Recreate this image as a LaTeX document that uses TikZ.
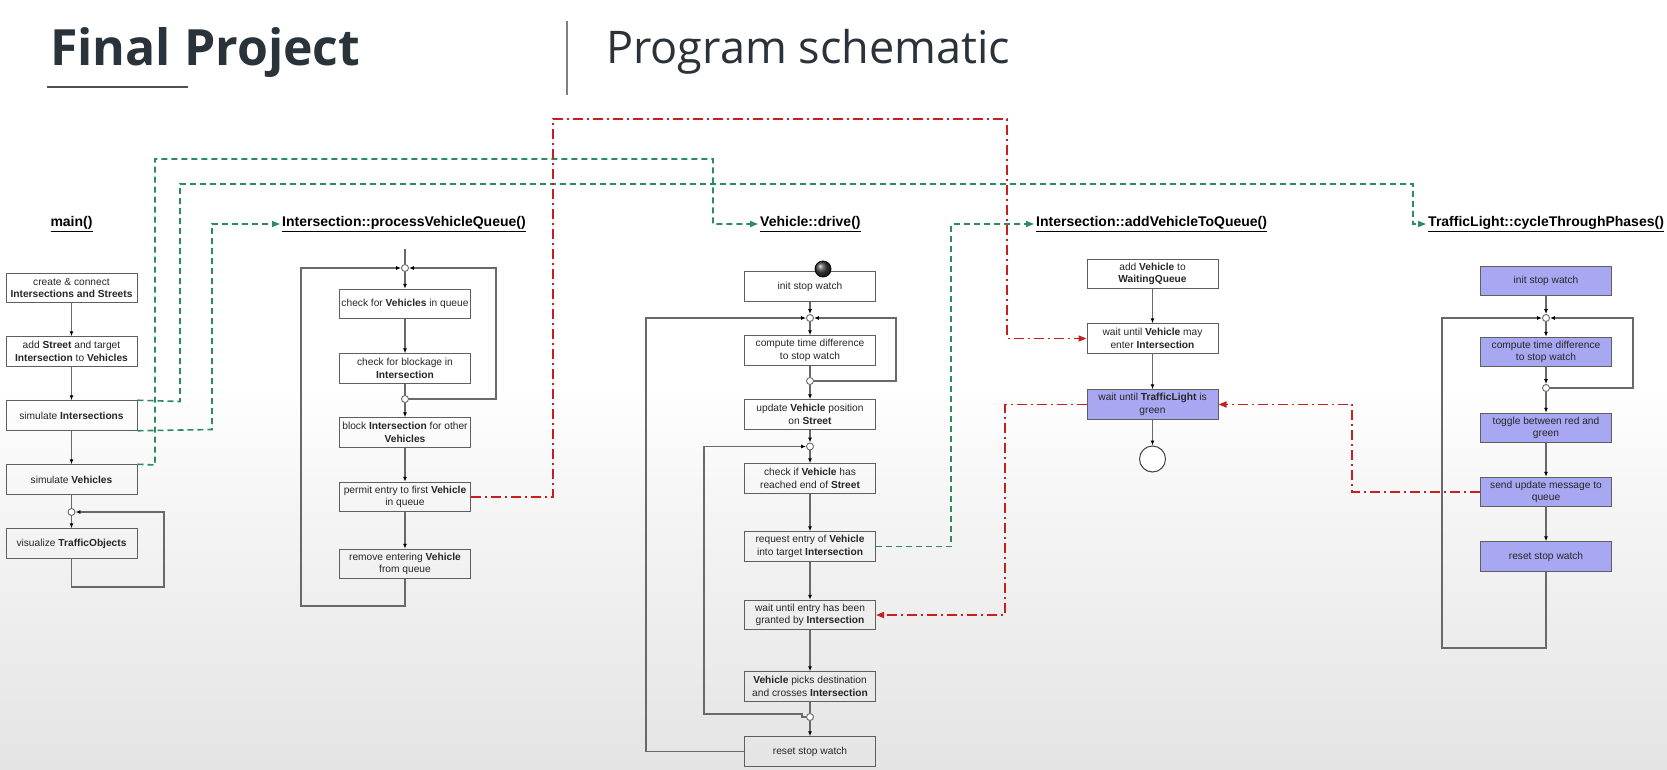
\documentclass[tikz,border=0pt]{standalone}
\usepackage{graphicx}
\usepackage{fontspec}
\setmainfont{Liberation Sans}
\newfontfamily\headfont{Open Sans}
\usetikzlibrary{arrows.meta}

\definecolor{linkgreen}{RGB}{45,140,95}
\definecolor{linkred}{RGB}{200,30,30}
\definecolor{phasefill}{RGB}{168,168,242}
\definecolor{linegray}{RGB}{105,105,105}
\definecolor{boxgray}{RGB}{95,95,95}
\definecolor{headink}{RGB}{42,50,58}
\definecolor{bgbot}{RGB}{212,212,212}
\definecolor{bgmid}{RGB}{225,225,225}
\definecolor{bglight}{RGB}{245,245,245}

% soft grey fade towards the bottom of the slide
\pgfdeclareverticalshading{bgshade}{100bp}{color(0bp)=(bgbot); color(22bp)=(bgmid); color(42bp)=(bglight); color(50bp)=(white); color(100bp)=(white)}

\begin{document}
\begin{tikzpicture}[x=1pt,y=-1pt,
  stepbox/.style={draw=boxgray, line width=1pt, minimum width=131pt, minimum height=29.5pt,
    inner sep=1pt, align=center, font=\fontsize{10.2}{12.6}\selectfont, text=black!85},
  phasebox/.style={stepbox, fill=phasefill},
  junction/.style={circle, draw=linegray, fill=white, line width=0.9pt, minimum size=7pt, inner sep=0pt},
  conn/.style={draw=linegray, line width=1.1pt},
  flow/.style={conn, -{Latex[length=5pt,width=4pt,black]}},
  greenlink/.style={draw=linkgreen, line width=1.6pt, dash pattern=on 6pt off 4pt,
    -{Triangle[length=8pt,width=6pt,fill=linkgreen]}},
  redlink/.style={draw=linkred, line width=1.6pt, dash pattern=on 10pt off 4pt on 2pt off 4pt,
    -{Triangle[length=8pt,width=6pt,fill=linkred]}},
  lanetitle/.style={font=\fontsize{14}{16}\selectfont\bfseries, inner sep=2pt, anchor=west, text=black},
]

% background
\shade[shading=bgshade] (0,0) rectangle (1667,770);
\useasboundingbox (0,0) rectangle (1667,770);

% slide header
\node[anchor=base west, inner sep=0pt, text=headink] (ftitle) at (50,66)
  {\resizebox{310pt}{!}{\headfont\bfseries Final Project}};
\node[anchor=base west, inner sep=0pt, text=headink] (stitle) at (606,64)
  {\resizebox{404pt}{!}{\headfont Program schematic}};
\draw[headink!85, line width=2pt] (47,87) -- (188,87);
\draw[gray, line width=1.3pt] (567,21) -- (567,95);

% ---------------- main() ----------------
\node[lanetitle, anchor=center] (tmain) at (71.5,224) {\underline{main()}};
\node[stepbox] (m1) at (71.5,288)   {create \& connect\\ \textbf{Intersections and Streets}};
\node[stepbox] (m2) at (71.5,351.5) {add \textbf{Street} and target\\ \textbf{Intersection} to \textbf{Vehicles}};
\node[stepbox] (m3) at (71.5,415.5) {simulate \textbf{Intersections}};
\node[stepbox] (m4) at (71.5,479.5) {simulate \textbf{Vehicles}};
\node[junction] (mj) at (71.5,512) {};
\node[stepbox] (m5) at (71.5,543.5) {visualize \textbf{TrafficObjects}};

\draw[flow] (m1) -- (m2);
\draw[flow] (m2) -- (m3);
\draw[flow] (m3) -- (m4);
\draw[conn] (m4) -- (mj);
\draw[flow] (mj) -- (m5);
\draw[flow] (m5.south) |- (164,587) |- (mj.east);

% ---------------- Intersection::processVehicleQueue() ----------------
\node[lanetitle] (tpvq) at (280,224) {\underline{Intersection::processVehicleQueue()}};
\coordinate (pin) at (405,249);
\node[junction] (p0) at (405,268) {};
\node[stepbox] (p1) at (405,304)   {check for \textbf{Vehicles} in queue};
\node[stepbox] (p2) at (405,368.5) {check for blockage in\\ \textbf{Intersection}};
\node[junction] (pj) at (405,399) {};
\node[stepbox] (p3) at (405,432.5) {block \textbf{Intersection} for other\\ \textbf{Vehicles}};
\node[stepbox] (p4) at (405,497)   {permit entry to first \textbf{Vehicle}\\ in queue};
\node[stepbox] (p5) at (405,564)   {remove entering \textbf{Vehicle}\\ from queue};

\draw[conn] (pin) -- (p0);
\draw[flow] (p0) -- (p1);
\draw[flow] (p1) -- (p2);
\draw[conn] (p2) -- (pj);
\draw[flow] (pj) -- (p3);
\draw[flow] (p3) -- (p4);
\draw[flow] (p4) -- (p5);
\draw[flow] (p5.south) |- (301,606) |- (p0.west);
\draw[flow] (pj.east) -| (496,268) -- (p0.east);

% ---------------- Vehicle::drive() ----------------
\node[lanetitle] (tdrive) at (758,224) {\underline{Vehicle::drive()}};
\node[stepbox] (d0) at (810,286.5) {init stop watch};
\node[circle, minimum size=16pt, inner sep=0pt, draw=black, line width=0.8pt,
  ball color=black!75] (dstart) at (823,269) {};
\node[junction] (dj1) at (810,318) {};
\node[stepbox] (d1) at (810,350.5) {compute time difference\\ to stop watch};
\node[junction] (dj2) at (810,381) {};
\node[stepbox] (d2) at (810,414.5) {update \textbf{Vehicle} position\\ on \textbf{Street}};
\node[junction] (dj3) at (810,446.5) {};
\node[stepbox] (d3) at (810,478.5) {check if \textbf{Vehicle} has\\ reached end of \textbf{Street}};
\node[stepbox] (d4) at (810,546.5) {request entry of \textbf{Vehicle}\\ into target \textbf{Intersection}};
\node[stepbox] (d5) at (810,615)   {wait until entry has been\\ granted by \textbf{Intersection}};
\node[stepbox] (d6) at (810,686.5) {\textbf{Vehicle} picks destination\\ and crosses \textbf{Intersection}};
\node[junction] (dj4) at (810,717) {};
\node[stepbox] (d7) at (810,751.5) {reset stop watch};

\draw[flow] (d0) -- (dj1);
\draw[flow] (dj1) -- (d1);
\draw[conn] (d1) -- (dj2);
\draw[flow] (dj2) -- (d2);
\draw[flow] (d2) -- (dj3);
\draw[flow] (dj3) -- (d3);
\draw[flow] (d3) -- (d4);
\draw[flow] (d4) -- (d5);
\draw[flow] (d5) -- (d6);
\draw[conn] (d6) -- (dj4);
\draw[flow] (dj4) -- (d7);
\draw[flow] (dj2.east) -| (896,318) -- (dj1.east);
\draw[flow] (d7.west) -| (646,318) -- (dj1.west);
\draw[flow] (dj4.west) -- (802,717) -- (802,714) -| (704,446.5) -- (dj3.west);

% ---------------- Intersection::addVehicleToQueue() ----------------
\node[lanetitle] (tadd) at (1034,224) {\underline{Intersection::addVehicleToQueue()}};
\node[stepbox] (a1) at (1152.5,274)   {add \textbf{Vehicle} to\\ \textbf{WaitingQueue}};
\node[stepbox] (a2) at (1152.5,338.5) {wait until \textbf{Vehicle} may\\ enter \textbf{Intersection}};
\node[phasebox] (a3) at (1152.5,404.5) {wait until \textbf{TrafficLight} is\\ green};
\node[circle, draw=black!75, fill=white, line width=1pt, minimum size=26pt, inner sep=0pt] (aend) at (1152.5,459) {};

\draw[flow] (a1) -- (a2);
\draw[flow] (a2) -- (a3);
\draw[flow] (a3) -- (aend);

% ---------------- TrafficLight::cycleThroughPhases() ----------------
\node[lanetitle] (ttl) at (1426,224) {\underline{TrafficLight::cycleThroughPhases()}};
\node[phasebox] (t0) at (1546,281) {init stop watch};
\node[junction] (tj1) at (1546,318) {};
\node[phasebox] (t1) at (1546,352) {compute time difference\\ to stop watch};
\node[junction] (tj2) at (1546,388) {};
\node[phasebox] (t2) at (1546,428) {toggle between red and\\ green};
\node[phasebox] (t3) at (1546,492) {send update message to\\ queue};
\node[phasebox] (t4) at (1546,556.5) {reset stop watch};

\draw[flow] (t0) -- (tj1);
\draw[flow] (tj1) -- (t1);
\draw[flow] (t1) -- (tj2);
\draw[flow] (tj2) -- (t2);
\draw[flow] (t2) -- (t3);
\draw[flow] (t3) -- (t4);
\draw[flow] (tj2.east) -| (1633,318) -- (tj1.east);
\draw[flow] (t4.south) |- (1442,648) |- (tj1.west);

% ---------------- calls between threads (green) ----------------
\draw[greenlink] (m4.north east) -- (155,465) |- (713,159) |- (tdrive.west);
\draw[greenlink] (m3.north east) -- (180,401.5) |- (1413,184) |- (ttl.west);
\draw[greenlink] (m3.south east) -- (212,429.5) |- (tpvq.west);
\draw[greenlink] (d4.east) -| (951,224) -- (tadd.west);

% ---------------- messages between threads (red) ----------------
\draw[redlink] (p4.east) -| (553,119) -| (1007,338.5) -- (a2.west);
\draw[redlink] (a3.west) -| (1005,615) -- (d5.east);
\draw[redlink] (t3.west) -| (1352,404.5) -- (a3.east);

\end{tikzpicture}
\end{document}
